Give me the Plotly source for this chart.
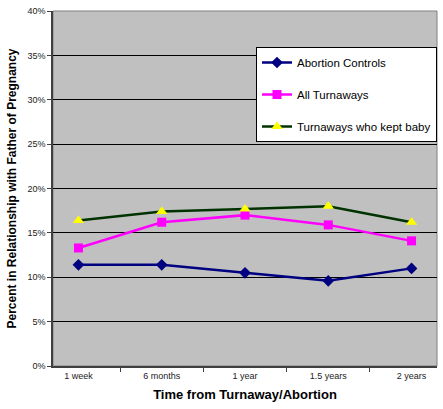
import plotly.graph_objects as go

categories = ["1 week", "6 months", "1 year", "1.5 years", "2 years"]
abortion_controls = [11.4, 11.4, 10.5, 9.6, 11.0]
all_turnaways = [13.3, 16.2, 17.0, 15.9, 14.1]
kept_baby = [16.4, 17.4, 17.7, 18.0, 16.2]
y_ticks = [0, 5, 10, 15, 20, 25, 30, 35, 40]
y_tick_labels = [f"{v}%" for v in y_ticks]

FONT = "Liberation Sans, Arial, sans-serif"

fig = go.Figure()
fig.add_trace(go.Scatter(
    x=categories, y=abortion_controls, name="Abortion Controls",
    mode="lines+markers", legendgroup="a",
    line=dict(color="#000080", width=2.5),
    marker=dict(symbol="diamond", size=9, color="#000080"),
))
fig.add_trace(go.Scatter(
    x=categories, y=all_turnaways, name="All Turnaways",
    mode="lines+markers", legendgroup="b",
    line=dict(color="#FF00FF", width=2.5),
    marker=dict(symbol="square", size=9, color="#FF00FF"),
))
fig.add_trace(go.Scatter(
    x=categories, y=kept_baby, name="Turnaways who kept baby",
    mode="lines+markers", legendgroup="c",
    line=dict(color="#003300", width=2.5),
    marker=dict(symbol="triangle-up", size=10, color="#FFFF00"),
))

L, R, T, B = 53, 6, 11, 43
PW, PH = 443 - L - R, 409 - T - B

fig.update_layout(
    width=443, height=409,
    margin=dict(l=L, r=R, t=T, b=B, autoexpand=False),
    paper_bgcolor="white",
    plot_bgcolor="#C0C0C0",
    font=dict(family=FONT, color="#000000"),
    showlegend=True,
    legend=dict(
        x=(256 - L) / PW, y=1 - (47 - T) / PH,
        xanchor="left", yanchor="top",
        bgcolor="white", bordercolor="black", borderwidth=1,
        font=dict(size=11.5, family=FONT),
        tracegroupgap=13,
        traceorder="grouped",
        itemwidth=30,
    ),
    xaxis=dict(
        type="category",
        automargin=False,
        tickson="boundaries",
        ticks="outside", ticklen=4, tickcolor="#404040",
        showgrid=False,
        showline=True, linecolor="#404040", linewidth=1.5,
        tickfont=dict(size=9, color="#222222"),
        title=dict(text="<b>Time from Turnaway/Abortion</b>", font=dict(size=13), standoff=10),
    ),
    yaxis=dict(
        range=[0, 40],
        automargin=False,
        tickvals=y_ticks, ticktext=y_tick_labels,
        ticks="outside", ticklen=4, tickcolor="#404040",
        showgrid=True, gridcolor="#000000", gridwidth=1,
        showline=True, linecolor="#404040", linewidth=1.5,
        zeroline=False,
        tickfont=dict(size=9, color="#222222"),
        title=dict(text="<b>Percent in Relationship with Father of Pregnancy</b>", font=dict(size=12), standoff=8),
    ),
)
fig.add_shape(type="rect", xref="paper", yref="paper", x0=0, y0=0, x1=1, y1=1,
              line=dict(color="#808080", width=1), layer="below")

fig.write_html("out.html", config={"displayModeBar": False})

# remove the browser's default body margin so the figure sits at (0, 0)
with open("out.html", encoding="utf-8") as f:
    html = f.read()
html = html.replace("<body>", '<body style="margin:0;padding:0;overflow:hidden">', 1)
with open("out.html", "w", encoding="utf-8") as f:
    f.write(html)
